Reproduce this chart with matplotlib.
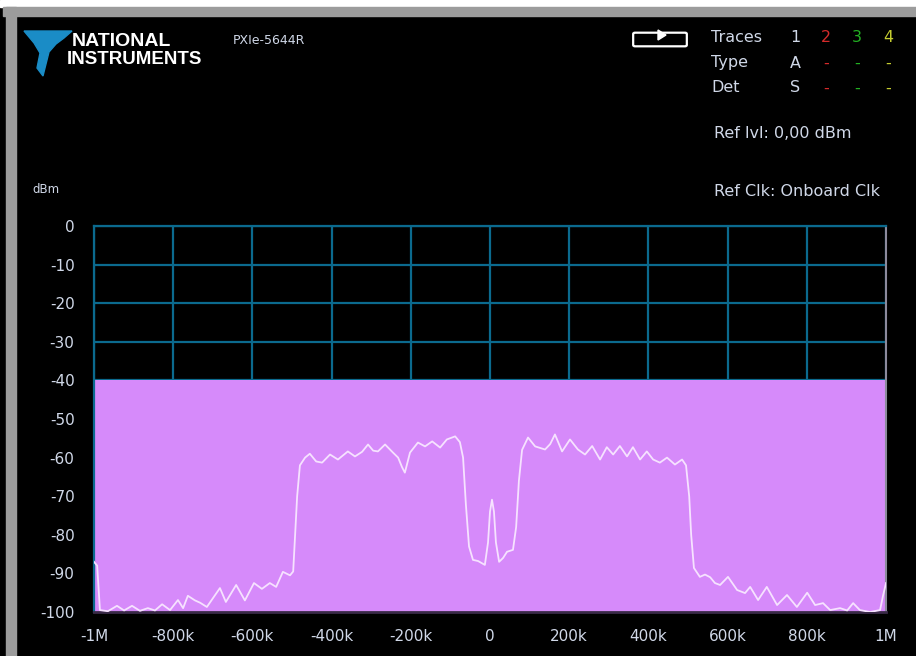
import matplotlib
matplotlib.use("Agg")
import matplotlib.pyplot as plt
from matplotlib.patches import Polygon, Rectangle, FancyBboxPatch

# spectrum trace (frequency in kHz, level in dBm)
freq_khz = [-1000, -992, -985, -965, -942, -924, -904, -884, -864, -846, -828, -808,
            -788, -775, -763, -745, -732, -715, -697, -682, -667, -641, -619, -596,
            -576, -556, -540, -523, -505, -497, -492, -487, -480, -467, -455, -439,
            -424, -404, -384, -359, -341, -323, -308, -295, -283, -265, -245, -232,
            -222, -215, -202, -182, -164, -146, -126, -109, -88, -76, -68, -61, -53,
            -43, -30, -13, -5, 0, 5, 10, 15, 23, 33, 43, 58, 66, 73, 81, 96, 114,
            139, 152, 164, 182, 202, 222, 240, 258, 278, 295, 311, 328, 346, 361,
            379, 396, 412, 429, 447, 467, 485, 495, 503, 508, 515, 530, 543, 556,
            568, 581, 601, 624, 644, 657, 677, 699, 725, 750, 775, 801, 821, 841,
            859, 884, 902, 917, 934, 960, 985, 992, 1000]
level_dbm = [-87.0, -88.0, -99.5, -99.8, -98.4, -99.6, -98.4, -99.7, -99.0, -99.6, -98.0, -99.5,
             -96.9, -99.0, -95.8, -97.0, -97.6, -98.7, -96.0, -93.8, -97.4, -93.0, -97.0, -92.5,
             -94.0, -92.5, -93.5, -89.6, -90.5, -89.5, -80.0, -70.0, -62.0, -60.0, -59.0, -61.0,
             -61.3, -59.2, -60.5, -58.4, -59.7, -58.5, -56.6, -58.2, -58.4, -56.6, -58.7, -60.0,
             -62.5, -63.9, -58.7, -56.1, -57.1, -55.8, -57.4, -55.3, -54.5, -56.0, -60.0, -72.0, -83.0,
             -86.5, -86.8, -87.8, -82.0, -74.0, -70.9, -74.0, -82.0, -87.0, -86.0, -84.4, -83.9, -78.0,
             -66.0, -58.0, -54.8, -57.1, -57.9, -56.5, -54.0, -58.4, -55.3, -57.9, -59.2, -57.0, -60.5,
             -57.3, -59.2, -57.0, -59.7, -57.3, -60.5, -58.4, -60.5, -61.3, -60.0, -61.8, -60.5, -62.0,
             -70.0, -80.0, -88.6, -90.9, -90.3, -91.0, -92.5, -93.0, -90.9, -94.3, -95.1, -93.5,
             -96.9, -93.5, -98.2, -95.6, -98.7, -95.0, -98.2, -97.7, -99.5, -99.0, -99.6, -97.7,
             -99.5, -100.0, -99.5, -96.0, -92.5]

x_ticks = [-1000, -800, -600, -400, -200, 0, 200, 400, 600, 800, 1000]
x_tick_labels = ["-1M", "-800k", "-600k", "-400k", "-200k", "0", "200k", "400k", "600k", "800k", "1M"]
y_ticks = [0, -10, -20, -30, -40, -50, -60, -70, -80, -90, -100]
mask_level = -40

W, H = 916, 656
txt = "#d0d8e8"
grid_c = "#0b6a8e"
purple = "#d68afa"


def fx(x):
    return x / W


def fy(y):
    return 1 - y / H


fig = plt.figure(figsize=(W / 100, H / 100), dpi=100, facecolor="black")

# window frame
fig.patches.append(Rectangle((0, fy(7)), 1, 7 / H, transform=fig.transFigure, color="white"))
fig.patches.append(Rectangle((fx(3), fy(16)), 1, 9 / H, transform=fig.transFigure, color="#9c9c9c"))
fig.patches.append(Rectangle((fx(6), 0), 10 / W, fy(7), transform=fig.transFigure, color="#9c9c9c"))

ax = fig.add_axes([fx(94), fy(612), 792 / W, 386 / H])
ax.set_facecolor("black")
ax.set_xlim(-1000, 1000)
ax.set_ylim(-100, 0)
ax.set_axisbelow(True)
ax.grid(True, color=grid_c, linewidth=1.6)
ax.axhspan(-100, mask_level, color=purple, zorder=1, linewidth=0)
ax.plot(freq_khz, level_dbm, color="#f6e2ff", linewidth=1.3, zorder=3)

ax.set_xticks(x_ticks)
ax.set_xticklabels(x_tick_labels)
ax.set_yticks(y_ticks)
ax.set_yticklabels([str(v) for v in y_ticks])
ax.tick_params(colors=txt, labelsize=11, length=0, pad=12)
ax.tick_params(axis="y", pad=14)
for s in ["top", "left"]:
    ax.spines[s].set_color(grid_c)
    ax.spines[s].set_linewidth(1.6)
ax.spines["right"].set_color("#8c8a9c")
ax.spines["right"].set_linewidth(1.5)
ax.spines["bottom"].set_color("#3a2a48")
ax.spines["bottom"].set_linewidth(2)

# header
bird = [(24, 31), (72, 31), (64, 38), (56, 44), (49, 52), (43, 76), (37, 68), (40, 53), (34, 43)]
fig.patches.append(Polygon([(fx(a), fy(b)) for a, b in bird], closed=True,
                           transform=fig.transFigure, color="#1a8cc6"))
fig.text(fx(72), fy(42), "NATIONAL", color="white", fontsize=14, fontweight="bold",
         family="Liberation Sans", va="center", ha="left")
fig.text(fx(67), fy(59), "INSTRUMENTS", color="white", fontsize=13.5, fontweight="bold",
         family="Liberation Sans", va="center", ha="left")
fig.text(fx(233), fy(40), "PXIe-5644R", color=txt, fontsize=9, va="center", ha="left")

fig.patches.append(FancyBboxPatch((fx(635), fy(45)), 50 / W, 11 / H, boxstyle="round,pad=0.002",
                                  transform=fig.transFigure, fill=False, ec="white", lw=1.6))
fig.patches.append(Polygon([(fx(658), fy(30)), (fx(658), fy(40)), (fx(666), fy(35))],
                           transform=fig.transFigure, color="white"))

rows = [("Traces", ["1", "2", "3", "4"], 38),
        ("Type", ["A", "-", "-", "-"], 63),
        ("Det", ["S", "-", "-", "-"], 88)]
trace_colors = [txt, "#d42a2a", "#22b022", "#c4cc30"]
for label, vals, y in rows:
    fig.text(fx(711), fy(y), label, color=txt, fontsize=11.5, va="center", ha="left")
    for v, xc, c in zip(vals, [795, 826, 857, 888], trace_colors):
        fig.text(fx(xc), fy(y), v, color=c, fontsize=11.5, va="center", ha="center")

fig.text(fx(714), fy(133), "Ref lvl: 0,00 dBm", color=txt, fontsize=11.5, va="center", ha="left")
fig.text(fx(714), fy(191), "Ref Clk: Onboard Clk", color=txt, fontsize=11.5, va="center", ha="left")
fig.text(fx(32), fy(190), "dBm", color=txt, fontsize=8.5, va="center", ha="left")

fig.savefig("out.png", dpi=100, facecolor="black")
